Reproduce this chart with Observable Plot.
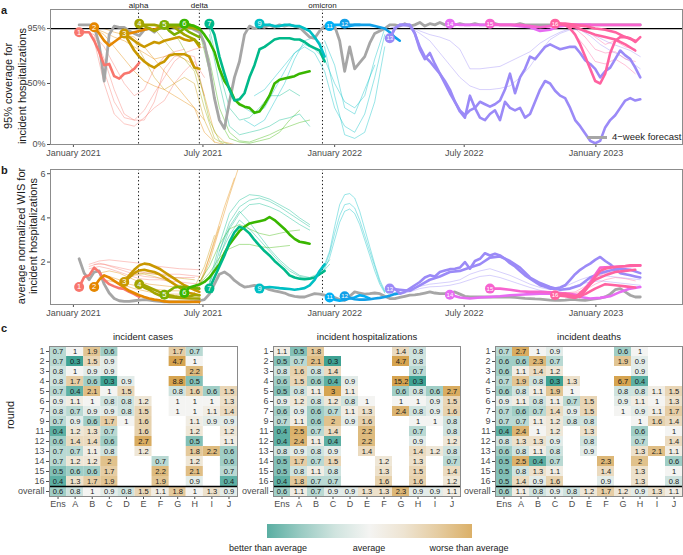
<!DOCTYPE html>
<html><head><meta charset="utf-8">
<script src="https://cdn.jsdelivr.net/npm/d3@7"></script>
<script src="https://cdn.jsdelivr.net/npm/@observablehq/plot@0.6"></script>
<style>
body{margin:0;background:#fff;overflow:hidden}
#fig{position:relative;width:683px;height:555px;font-family:"Liberation Sans",Arial,sans-serif;color:#1a1a1a;background:#fff}
.abs{position:absolute}
</style></head>
<body><div id="fig"></div>
<script>
// ---------- DATA ----------
const N = null;
const roundIds = [1,2,3,4,5,6,7,9,11,12,13,14,15,16];
const roundColors = ["#f8766d","#e58700","#c99800","#a3a500","#7cae00","#39b600","#00b98a","#00bfc4","#00b0f6","#12a0e8","#9b8af7","#e76bf3","#f763cf","#ff62a0"];
const variantNames = ["alpha","delta","omicron"];
const variantDates = ["2021-04-02","2021-06-26","2021-12-15"];
const xTickDates = ["2021-01-01","2021-07-01","2022-01-01","2022-07-01","2023-01-01"];

// weekly series, week index w counted from 2021-01-02
const covGray = [98,98,98,97,82,52,90,97,96,96, 93,91,89,94,95,92,96,97,97,96, 96,95,96,94,92,83,63,38,20,13,
 35,55,68,90,97,95,97,96,98,96, 98,97,98,97,96,92,88,87,93,97, 98,97,85,60,80,62,67,72,83,91,
 93,95,98,98,97,99,97,98,100,97, 99,98,100,98,99,98,99,98,98,99, 98,98,98,99,98,98,98,98,99,98,
 98,98,98,98,98,98,98,98,98,98, 98,98,98,98,98,98,98,98,98,98, 98,98,98];
const wisGray = [2.15,1.5,1.2,1.55,1.6,1.0,0.6,0.35,0.25,0.22, 0.22,0.25,0.28,0.3,0.28,0.25,0.22,0.2,0.2,0.2,
 0.2,0.2,0.2,0.22,0.25,0.3,0.55,1.0,1.45,1.55, 1.4,1.17,1.0,0.87,0.9,0.95,0.9,0.85,0.75,0.7,
 0.65,0.6,0.5,0.45,0.42,0.42,0.5,0.57,0.55,0.5, 0.45,0.4,0.3,0.27,0.45,0.65,0.6,0.55,0.57,0.6,
 0.57,0.45,0.35,0.35,0.4,0.45,0.5,0.52,0.55,0.6, 0.65,0.6,0.57,0.57,0.6,0.65,0.55,0.45,0.42,0.42,
 0.42,0.42,0.42,0.42,0.42,0.42,0.42,0.4,0.38,0.36, 0.35,0.33,0.32,0.3,0.28,0.27,0.27,0.28,0.3,0.3,
 0.28,0.27,0.3,0.33,0.37,0.42,0.55,0.75,0.8,0.65, 0.5,0.42,0.42];

// 95% coverage (%), per round: r round, k kind, w0 first week, s step (weeks), v values
const covLines = [
 {r:1,k:"thick",w0:1,s:1,v:[92,92,92,85,76,65,66,56,54,58,59,62,67]},
 {r:1,k:"thin",w0:4,s:2,v:[85,50,25,17,15,22,30,36,50,60,68,55]},
 {r:1,k:"thin",w0:4,s:2,v:[88,60,35,22,20,28,42,55,68,75,78,80]},
 {r:1,k:"thin",w0:4,s:2,v:[90,70,45,25,20,20,35,62,72,74,72,40]},
 {r:1,k:"thin",w0:2,s:2,v:[93,90,80,65,50,40,45,62,72,76,78]},
 {r:2,k:"thick",w0:4,s:1,v:[96,91,85,81,84,87,90,91,92,93,94,95,94,96,96,97,97,97,97,96,96,95]},
 {r:2,k:"thin",w0:4,s:2,v:[95,90,80,70,60,52,48,45,40,35,30,10,2,0]},
 {r:2,k:"thin",w0:4,s:2,v:[95,92,88,85,80,75,70,72,74,70,65,40,10,2,0]},
 {r:2,k:"thin",w0:6,s:2,v:[95,92,90,88,80,70,60,50,40,30,20]},
 {r:3,k:"thick",w0:10,s:1,v:[91,84,77,72,68,65,63,66,68,73,74,74,74,72,63,62]},
 {r:3,k:"thick",w0:10,s:1,v:[91,88,85,82,80,82,84,83,85,86,87,88,86,85,86,80]},
 {r:3,k:"thin",w0:12,s:2,v:[85,70,55,45,50,55,50,20,2]},
 {r:4,k:"thick",w0:13,s:1,v:[99,98,98,98,97,97,97,96,93,90,88,86,82]},
 {r:4,k:"thick",w0:13,s:1,v:[99,97,95,93,95,96,97,97,97,96,96,95,94]},
 {r:4,k:"thin",w0:16,s:2,v:[95,85,75,70,60,30,5,0]},
 {r:5,k:"thick",w0:18,s:1,v:[98,98,98,98,98,98,97,95]},
 {r:5,k:"thick",w0:18,s:1,v:[98,93,90,92,95,92,90,88]},
 {r:5,k:"thin",w0:19,s:2,v:[95,85,70,55,20,3,0,0]},
 {r:6,k:"thick",w0:22,s:1,v:[99,98,97,95,90,84,76,62,52,46,37,33,31,30,26,27,33,40,50,53,54,55,56,58,59,60]},
 {r:6,k:"thin",w0:25,s:2,v:[95,70,30,10,3,2,5,8,12,15,18,20]},
 {r:6,k:"thin",w0:25,s:2,v:[93,60,20,5,2,1,3,5,10,20,28]},
 {r:7,k:"thick",w0:27,s:1,v:[99,90,72,58,45,36,37,42,55,65,78,80,83,86,87,87,87,86,86,84,81,79,77,68]},
 {r:7,k:"thin",w0:27,s:2,v:[95,60,30,20,22,30,40,40,45,40]},
 {r:7,k:"thin",w0:27,s:2,v:[90,50,15,8,10,12,15,20,22,25,15]},
 {r:9,k:"thick",w0:37,s:1,v:[99,98,98,97,97,98,98,97,97,95,93,88,82,72]},
 {r:9,k:"thin",w0:34,s:2,v:[20,15,20,35,50,70,85,88,80,40,8,5,10,35,80]},
 {r:9,k:"thin",w0:34,s:2,v:[30,25,30,45,60,75,80,75,60,30,15,10,25,55,90]},
 {r:9,k:"thin",w0:36,s:2,v:[40,45,55,65,75,82,78,70,50,35,30,40,70,95]},
 {r:9,k:"thin",w0:50,s:2,v:[85,65,30,25,45,65]},
 {r:11,k:"thick",w0:51,s:1,v:[97,98,98,97,97,98,98]},
 {r:12,k:"thick",w0:54,s:1,v:[99,98,98,98,98,98,97,96,95,92,88,85]},
 {r:13,k:"thick",w0:63,s:1,v:[87,95,98,98,98,91,78,70,75,66,58,50,42,35,27,22,40,30,22,20,25,28,20,35,30,28,30,22,25,35,45,52,50,44,40,38,30,20,15,9,3,1,3,14,20,24,30,36,38,36,37]},
 {r:13,k:"thick",w0:63,s:1,v:[87,95,98,98,98,91,80,72,68,63,58,52,45,35,28,24,28,30,35,33,31,33,36,45,58,42,55,62,72,70,75,80,82,80,78,79,80,80,75,69,66,62,55,60,63,70,77,73,70,63,55]},
 {r:13,k:"thin",w0:63,s:2,v:[95,98,97,93,90,88,85,78,62,62,63,64,68,72,76,83,88,92,95,94,91,87,83,80,77,72]},
 {r:13,k:"thin",w0:63,s:2,v:[95,98,96,91,85,75,65,55,48,45,45,46,48,55,64,76,86,91,94,94,89,82,77,73,68,62]},
 {r:14,k:"thick",w0:75,s:2,v:[99,98,98,98,98,98,98,97,96,93,94,97,98,98,98]},
 {r:15,k:"thick",w0:83,s:2,v:[99,98,98,98,97,96,97,98,98,98,98,98,98,98,98,98]},
 {r:16,k:"thick",w0:96,s:1,v:[99,99,98,95,90,82,72,62,52,50,58,75,85,88,88,87,84,88]},
 {r:16,k:"thick",w0:96,s:2,v:[99,98,96,93,90,88,86,82,77]},
 {r:16,k:"thick",w0:96,s:2,v:[99,99,98,97,95,94,92,88,85]},
 {r:16,k:"thin",w0:96,s:2,v:[98,97,90,80,68,66,70,65,58]},
 {r:16,k:"thin",w0:96,s:2,v:[98,98,95,88,78,75,76,70,68]},
 {r:16,k:"thin",w0:98,s:2,v:[98,97,94,88,82,85,80,78]}
];

// average normalized WIS
const wisLines = [
 {r:1,k:"thick",w0:1,s:1,v:[0.87,1.32,1.4,1.75,1.55,1.2,1.0,0.9,0.82,0.78,0.65,0.55,0.42]},
 {r:1,k:"thin",w0:3,s:2,v:[1.9,2.05,2.1,2.05,2.0,1.95,1.85,1.8,1.75,1.7,1.68,1.65]},
 {r:1,k:"thin",w0:3,s:2,v:[1.8,1.95,1.85,1.75,1.65,1.55,1.5,1.45,1.45,1.45,1.4,1.35]},
 {r:1,k:"thin",w0:3,s:2,v:[1.7,1.8,1.7,1.55,1.4,1.25,1.2,1.2,1.15,1.1,1.05,1.0]},
 {r:1,k:"thin",w0:4,s:2,v:[1.9,1.9,1.75,1.6,1.45,1.35,1.3,1.25,1.3,1.3,1.3]},
 {r:2,k:"thick",w0:4,s:1,v:[0.87,1.2,1.4,1.3,1.15,1.0,0.85,0.7,0.6,0.5,0.42,0.35,0.3,0.27,0.22,0.2,0.2,0.2,0.2,0.2,0.2,0.2]},
 {r:2,k:"thin",w0:5,s:2,v:[1.5,1.6,1.5,1.3,1.1,1.0,0.95,0.9,0.85,0.8,0.9,2.0,3.5,5.0,6.4]},
 {r:2,k:"thin",w0:5,s:2,v:[1.3,1.35,1.2,1.0,0.9,0.8,0.75,0.7,0.7,0.75,1.0,2.2,3.6]},
 {r:2,k:"thin",w0:6,s:2,v:[1.2,1.1,0.95,0.8,0.7,0.6,0.55,0.55,0.55,0.6,1.5,3.0,4.5,5.8]},
 {r:3,k:"thick",w0:10,s:1,v:[1.1,1.4,1.65,1.85,1.93,1.9,1.8,1.7,1.55,1.4,1.25,1.1,0.95,0.85,0.75,0.65]},
 {r:3,k:"thick",w0:10,s:1,v:[1.1,1.3,1.5,1.62,1.65,1.6,1.55,1.45,1.3,1.15,1.0,0.85,0.7,0.6,0.55,0.5]},
 {r:3,k:"thin",w0:10,s:2,v:[1.2,1.4,1.5,1.45,1.4,1.3,1.25,1.2]},
 {r:3,k:"thin",w0:10,s:2,v:[1.3,1.5,1.45,1.35,1.2,1.0,0.9,0.85,1.8,3.2]},
 {r:4,k:"thick",w0:13,s:1,v:[1.0,0.85,0.75,0.6,0.5,0.45,0.42,0.4,0.38,0.36,0.35,0.35,0.35]},
 {r:4,k:"thick",w0:13,s:1,v:[1.0,0.95,0.85,0.75,0.65,0.55,0.5,0.45,0.42,0.42,0.45,0.5,0.5]},
 {r:5,k:"thick",w0:18,s:1,v:[0.52,0.7,0.85,0.88,0.87,0.85,0.82,0.8]},
 {r:6,k:"thick",w0:22,s:1,v:[0.6,0.85,0.92,0.98,1.1,1.3,1.6,1.9,2.4,2.8,3.1,3.4,3.6,3.75,3.8,3.85,3.9,4.04,3.9,3.7,3.5,3.25,3.05,2.92,2.88,2.83]},
 {r:6,k:"thin",w0:25,s:2,v:[1.1,1.8,2.8,3.5,3.7,3.5,3.3,3.2,3.3,3.4,3.45]},
 {r:6,k:"thin",w0:25,s:2,v:[1.0,1.5,2.2,2.6,2.8,2.8,2.7,2.65,2.7,2.75]},
 {r:7,k:"thick",w0:27,s:1,v:[0.8,1.3,1.8,2.3,2.9,3.35,3.6,3.5,3.3,3.0,2.75,2.5,2.3,2.05,1.85,1.65,1.4,1.3,1.25,1.22,1.25,1.3,1.45,1.6]},
 {r:7,k:"thin",w0:27,s:2,v:[1.0,2.5,3.8,4.5,4.8,4.9,4.75,4.5,4.2,3.9,3.6]},
 {r:7,k:"thin",w0:27,s:2,v:[1.0,2.2,3.5,4.2,4.6,4.65,4.5,4.3,4.0,3.7,3.45]},
 {r:7,k:"thin",w0:27,s:2,v:[1.1,2.8,4.2,4.8,5.05,5.0,4.85,4.6,4.35,4.0,3.7]},
 {r:7,k:"thin",w0:29,s:2,v:[2.5,3.6,4.3,3.8,3.2,2.6,2.1,1.7,1.4,1.3,1.5,2.1]},
 {r:7,k:"thin",w0:29,s:2,v:[2.3,3.2,3.9,3.5,3.0,2.5,2.0,1.6,1.35,1.25,1.4,1.9]},
 {r:9,k:"thick",w0:37,s:1,v:[0.8,0.85,0.87,0.85,0.82,0.8,0.78,0.75,0.78,0.82,0.95,1.2,1.6,1.9]},
 {r:9,k:"thin",w0:49,s:1,v:[1.6,1.9,2.5,3.6,4.6,5.05,5.1,4.9,4.3,3.5,2.7,1.9,1.2,0.7,0.5]},
 {r:9,k:"thin",w0:49,s:1,v:[1.5,1.8,2.4,3.3,4.1,4.6,4.65,4.45,3.9,3.2,2.5,1.8,1.1,0.65]},
 {r:9,k:"thin",w0:49,s:1,v:[1.4,1.7,2.2,3.0,3.8,4.3,4.4,4.2,3.7,3.0,2.3,1.6,1.0,0.6]},
 {r:11,k:"thick",w0:51,s:1,v:[0.4,0.3,0.25,0.3,0.35,0.4,0.5,0.45,0.35]},
 {r:12,k:"thick",w0:54,s:1,v:[0.45,0.38,0.32,0.3,0.3,0.32,0.35,0.38,0.42,0.48,0.55,0.6]},
 {r:13,k:"thick",w0:63,s:1,v:[0.8,0.8,0.57,0.65,0.8,0.95,1.1,1.3,1.4,1.35,1.55,1.62,1.68,1.7,1.75,2.0,1.7,2.05,2.15,2.4,2.3,2.38,2.3,2.15,1.95,1.8,1.6,1.4,1.25,1.1,0.95,0.88,0.8,0.8,0.85,0.95,1.2,1.45,1.65,1.8,1.93,2.1,2.23,2.05,1.9,1.7,1.5,1.45,1.4,1.35,1.3]},
 {r:13,k:"thick",w0:63,s:2,v:[0.8,0.75,0.7,0.95,1.2,1.35,1.55,1.6,1.75,1.9,2.2,2.25,2.05,1.75,1.3,1.05,0.87,0.75,0.8,0.95,1.3,1.5,1.62,1.7,1.65,1.5]},
 {r:13,k:"thin",w0:63,s:2,v:[0.6,0.62,0.75,0.9,1.0,1.05,1.1,1.2,1.45,1.6,1.7,1.55,1.4,1.2,1.0,0.85,0.75,0.8,1.0,1.2,1.35,1.4,1.35,1.3,1.25,1.2]},
 {r:13,k:"thin",w0:63,s:2,v:[0.55,0.55,0.65,0.8,0.88,0.9,0.95,1.05,1.2,1.35,1.4,1.3,1.15,1.0,0.85,0.72,0.65,0.7,0.85,1.0,1.1,1.15,1.1,1.05,1.0,0.95]},
 {r:14,k:"thick",w0:75,s:2,v:[0.52,0.4,0.35,0.4,0.42,0.45,0.5,0.52,0.55,0.57,0.57,0.55,0.5,0.42,0.35,0.38,0.45,0.65,0.8,0.87]},
 {r:15,k:"thick",w0:83,s:2,v:[0.8,0.8,0.75,0.68,0.65,0.65,0.63,0.6,0.55,0.5,1.1,1.75,1.77,1.8,1.82,1.85]},
 {r:16,k:"thick",w0:96,s:1,v:[0.5,0.55,0.57,0.5,0.45,0.42,0.7,1.0,1.32,1.6,1.7,1.75,1.78,1.8,1.82,1.85,1.85,1.85]},
 {r:16,k:"thick",w0:96,s:2,v:[0.5,0.5,0.4,0.8,1.2,1.4,1.55,1.6,1.65]},
 {r:16,k:"thick",w0:96,s:2,v:[0.5,0.45,0.38,0.55,0.8,1.0,0.95,0.9,0.85]},
 {r:16,k:"thin",w0:96,s:2,v:[0.55,0.6,0.65,0.9,1.3,1.5,1.55,1.45,1.35]},
 {r:16,k:"thin",w0:96,s:2,v:[0.6,0.62,0.6,0.75,1.0,1.2,1.3,1.25,1.15]}
];

// heatmaps: relative WIS per round (rows) and model (columns)
const rowLabels = ["1","2","3","4","5","6","7","9","11","12","13","14","15","16","overall"];
const modelLabels = ["Ens","A","B","C","D","E","F","G","H","I","J"];
const heatTitles = ["incident cases","incident hospitalizations","incident deaths"];
const casesValues = [
 [0.7,1,1.9,0.6,N,N,N,1.7,0.7,N,N],
 [0.7,0.3,1.5,0.9,N,N,N,4.7,1,N,N],
 [0.8,1,0.9,0.9,N,N,N,N,2.2,N,N],
 [0.8,1.7,0.6,0.3,0.9,N,N,8.8,0.5,N,N],
 [0.7,0.4,2.1,1,1.5,N,N,0.8,1.6,0.6,1.5],
 [0.9,1.1,1,0.8,0.8,1.2,N,1,1,1,1.3],
 [0.8,0.7,0.9,0.9,0.8,1.5,N,1,1,1.1,1.4],
 [0.7,0.9,0.6,1.7,1,1.6,N,N,1.1,0.9,0.9],
 [0.4,1.2,1.3,0.7,N,1.6,N,N,1.2,N,1.2],
 [0.6,1.4,1.4,0.6,N,2.7,N,N,0.5,N,1.1],
 [0.7,0.7,1.1,0.8,N,1.2,N,N,1.8,2.2,0.6],
 [0.7,1.2,1.2,2,N,N,0.7,N,1.2,N,0.6],
 [0.5,0.6,0.6,1.7,N,N,2.2,N,2.1,N,0.7],
 [0.4,1.3,1.7,1.9,N,N,1.9,N,0.9,N,0.4],
 [0.6,0.8,1,0.9,0.8,1.5,1.1,1.8,1,1.3,0.9]
];
const hospValues = [
 [1.1,0.5,1.8,N,N,N,N,1.4,0.8,N,N],
 [0.5,0.7,2.1,0.3,N,N,N,4.7,0.8,N,N],
 [0.8,1.6,0.8,1.4,N,N,N,N,0.7,N,N],
 [0.6,1.5,0.6,0.4,0.9,N,N,15.2,0.3,N,N],
 [0.5,0.8,1.1,3,1.1,N,N,0.6,0.8,0.6,2.7],
 [0.9,1.2,0.8,1.2,0.8,1,N,1,1,0.9,1.5],
 [0.6,0.9,0.6,0.7,1.1,1.3,N,2.4,0.8,0.9,1.6],
 [0.7,1.1,0.6,2,0.9,1.6,N,N,1,1,0.8],
 [0.4,2.5,0.7,1.4,N,2.2,N,N,0.7,N,0.8],
 [0.4,2.4,1.1,0.4,N,2.2,N,N,0.9,N,1.2],
 [0.8,0.9,0.8,0.9,N,1.4,N,N,1.4,1.2,0.8],
 [0.5,1.7,0.7,1.5,N,N,1.2,N,1.3,N,0.7],
 [0.5,0.8,1.1,0.8,N,N,1.3,N,1.5,N,1.4],
 [0.4,1.8,0.7,0.7,N,N,1.6,N,1.6,N,1.2],
 [0.6,1.1,0.7,0.9,0.9,1.3,1.3,2.3,0.9,0.9,1.1]
];
const deathsValues = [
 [0.7,2.7,1,0.9,N,N,N,0.6,1,N,N],
 [0.6,0.6,2.3,0.7,N,N,N,1.9,0.9,N,N],
 [0.6,1.1,1.4,1.2,N,N,N,N,0.9,N,N],
 [0.7,1.9,0.8,0.3,1.3,N,N,6.7,0.4,N,N],
 [0.6,0.8,1.1,1.9,1,N,N,0.8,0.8,1.1,1.5],
 [0.9,1.1,0.8,1.1,0.7,1.5,N,0.9,1.1,1,1.3],
 [0.7,0.6,0.7,1.4,0.9,1.5,N,1,0.9,1.1,1.7],
 [0.7,0.7,1.1,1.2,0.8,0.8,N,N,1,1.6,1.4],
 [0.4,2.4,1,1.2,N,1.3,N,N,0.6,N,1],
 [0.8,1.3,1.3,0.9,N,0.8,N,N,0.7,N,1.4],
 [0.6,0.8,1.1,0.8,N,0.9,N,N,1.3,2.1,1.1],
 [0.5,2.5,0.4,0.7,N,N,2.3,N,2,N,0.6],
 [0.5,0.8,1.3,1.1,N,N,1.4,N,1.3,N,1],
 [0.5,1.4,0.9,1.6,N,N,0.9,N,1.3,N,0.8],
 [0.6,1.1,0.8,0.9,0.8,1.2,1.7,1.2,0.9,1.3,1.1]
];
const legendLabels = ["better than average","average","worse than average"];

// ---------- HELPERS ----------
const fig = document.getElementById("fig");
const FONT = '"Liberation Sans", Arial, sans-serif';
const W0 = Date.UTC(2021, 0, 2);
const weekDate = w => new Date(W0 + w * 7 * 864e5);
const utc = s => new Date(s + "T00:00:00Z");
const colorOf = r => r === 0 ? "#a6a6a6" : roundColors[roundIds.indexOf(r)];
const variants = variantNames.map((name, i) => ({name, date: utc(variantDates[i])}));

function expand(list) {
  const pts = [];
  list.forEach((s, id) => s.v.forEach((v, i) => {
    if (v != null) pts.push({id, r: s.r, date: weekDate(s.w0 + i * s.s), v});
  }));
  return pts;
}
function place(node, left, top, width) {
  const d = document.createElement("div");
  d.className = "abs"; d.style.left = left + "px"; d.style.top = top + "px";
  if (width) d.style.width = width + "px";
  d.appendChild(node); fig.appendChild(d); return d;
}
function addText(html, css) {
  const d = document.createElement("div");
  d.innerHTML = html; d.style.cssText = "position:absolute;" + css; fig.appendChild(d); return d;
}

function timePanel(lines, gray, yOpts, withRef, withNames) {
  const thin = expand(lines.filter(s => s.k === "thin"));
  const thick = expand(lines.filter(s => s.k === "thick"));
  const grayPts = expand([{r: 0, k: "gray", w0: 1, s: 1, v: gray}]);
  const labels = roundIds.map(r => {
    const s = lines.find(d => d.r === r && d.k === "thick");
    return {r, date: weekDate(s.w0), v: s.v[0]};
  });
  return Plot.plot({
    width: 683, height: 160, marginTop: 9, marginBottom: 16, marginLeft: 50, marginRight: 1,
    style: {fontFamily: FONT, fontSize: "9px", color: "#4d4d4d", background: "transparent", overflow: "visible"},
    x: {type: "utc", domain: [utc("2020-11-30"), utc("2023-05-02")], ticks: xTickDates.map(utc),
        tickFormat: d3.utcFormat("%B %Y"), tickSize: 3, tickPadding: 2, label: null},
    y: {...yOpts, tickSize: 3, tickPadding: 2, label: null},
    color: {type: "identity"},
    marks: [
      Plot.ruleX(variants, {x: "date", stroke: "#111", strokeWidth: 1, strokeDasharray: "1.3,2.4"}),
      withNames ? Plot.text(variants, {x: "date", text: "name", frameAnchor: "top", dy: -2, lineAnchor: "bottom", fontSize: 8, fill: "#1a1a1a"}) : null,
      Plot.line(thin, {x: "date", y: "v", z: "id", stroke: d => colorOf(d.r), strokeWidth: 0.9, strokeOpacity: 0.45, clip: true}),
      withRef ? Plot.ruleY([95], {stroke: "#000", strokeWidth: 1.2}) : null,
      Plot.line(grayPts, {x: "date", y: "v", stroke: "#a6a6a6", strokeWidth: 2.8, clip: true}),
      Plot.line(thick, {x: "date", y: "v", z: "id", stroke: d => colorOf(d.r), strokeWidth: 2.6, clip: true}),
      Plot.dot(labels, {x: "date", y: "v", r: 5, fill: d => colorOf(d.r), stroke: "none"}),
      Plot.text(labels.filter(d => d.r < 10), {x: "date", y: "v", text: d => String(d.r), fill: "white", fontSize: 7.5}),
      Plot.text(labels.filter(d => d.r >= 10), {x: "date", y: "v", text: d => String(d.r), fill: "white", fontSize: 6}),
      Plot.frame({stroke: "#8c8c8c"})
    ].filter(Boolean)
  });
}

// heat colours
const heatLow = "#3fa294", heatMid = "#f4f4f2", heatHigh = "#d6a450";
const lowI = d3.interpolateRgb(heatMid, heatLow), highI = d3.interpolateRgb(heatMid, heatHigh);
function heatColor(v) {
  const t = Math.max(-1, Math.min(1, Math.log(v) / Math.log(3)));
  return t < 0 ? lowI(-t) : highI(t);
}
function heatmap(values, width, marginLeft, marginRight) {
  const cells = [];
  values.forEach((row, ri) => row.forEach((v, ci) => { if (v != null) cells.push({ri, ci, v}); }));
  return Plot.plot({
    width, height: 187, marginTop: 21, marginBottom: 16, marginLeft, marginRight,
    style: {fontFamily: FONT, fontSize: "9px", color: "#4d4d4d", background: "transparent", overflow: "visible"},
    x: {domain: [0, modelLabels.length], ticks: modelLabels.map((_, i) => i + 0.5),
        tickFormat: d => modelLabels[Math.floor(d)], tickSize: 3, tickPadding: 1, label: null},
    y: {domain: [rowLabels.length, 0], ticks: rowLabels.map((_, i) => i + 0.5),
        tickFormat: d => rowLabels[Math.floor(d)], tickSize: 3, tickPadding: 2, label: null},
    color: {type: "identity"},
    marks: [
      Plot.rect(cells, {x1: "ci", x2: d => d.ci + 1, y1: "ri", y2: d => d.ri + 1, fill: d => heatColor(d.v)}),
      Plot.text(cells, {x: d => d.ci + 0.5, y: d => d.ri + 0.5, text: d => String(d.v), fontSize: 7.5, fill: "#1a1a1a"}),
      Plot.ruleY([rowLabels.length - 1], {stroke: "#000", strokeWidth: 1.4}),
      Plot.frame({stroke: "#8a8a8a"})
    ]
  });
}

// ---------- PANELS ----------
place(timePanel(covLines, covGray, {domain: [0, 110.6], ticks: [0, 50, 95], tickFormat: d => d + "%"}, true, true), 0, 0, 683);
place(timePanel(wisLines, wisGray, {domain: [0.08, 6.19], ticks: [2, 4, 6], tickFormat: d => String(d)}, false, false), 0, 160, 683);

addText("a", "left:1px;top:4px;font-weight:bold;font-size:11px;");
addText("b", "left:1px;top:164px;font-weight:bold;font-size:11px;");
addText("c", "left:1px;top:322px;font-weight:bold;font-size:11px;");

addText("95% coverage for<br>incident hospitalizations",
  "left:-75px;top:72px;width:180px;height:28px;line-height:14px;font-size:11px;text-align:center;transform:rotate(-90deg);white-space:nowrap;");
addText("average normalized WIS for<br>incident hospitalizations",
  "left:-63px;top:224px;width:180px;height:24px;line-height:12px;font-size:11px;text-align:center;transform:rotate(-90deg);white-space:nowrap;");

// panel a legend
addText("", "left:587px;top:136px;width:20px;height:3px;background:#a6a6a6;");
addText("4−week forecast", "left:612px;top:131px;font-size:9.5px;line-height:12px;white-space:nowrap;");

// heatmaps
place(heatmap(casesValues, 239, 49, 2), 0, 325, 239);
place(heatmap(hospValues, 234, 45, 2), 228, 325, 234);
place(heatmap(deathsValues, 233, 45, 1), 450, 325, 233);
[143, 367, 589].forEach((cx, i) => {
  addText(heatTitles[i], `left:${cx - 80}px;top:331px;width:160px;text-align:center;font-size:9.5px;line-height:12px;`);
});
addText("round", "left:-20px;top:408px;width:60px;height:14px;line-height:14px;font-size:11px;text-align:center;transform:rotate(-90deg);");

// colour legend
const g = [-0.85, -0.5, -0.2, 0, 0.2, 0.5, 0.85].map(t => t < 0 ? lowI(-t) : highI(t));
addText("", `left:267px;top:524px;width:205px;height:14px;background:linear-gradient(to right, ${g.join(",")});`);
[268, 369, 469].forEach((cx, i) => {
  addText(legendLabels[i], `left:${cx - 60}px;top:542px;width:120px;text-align:center;font-size:9px;line-height:12px;`);
});
</script>
</body></html>
